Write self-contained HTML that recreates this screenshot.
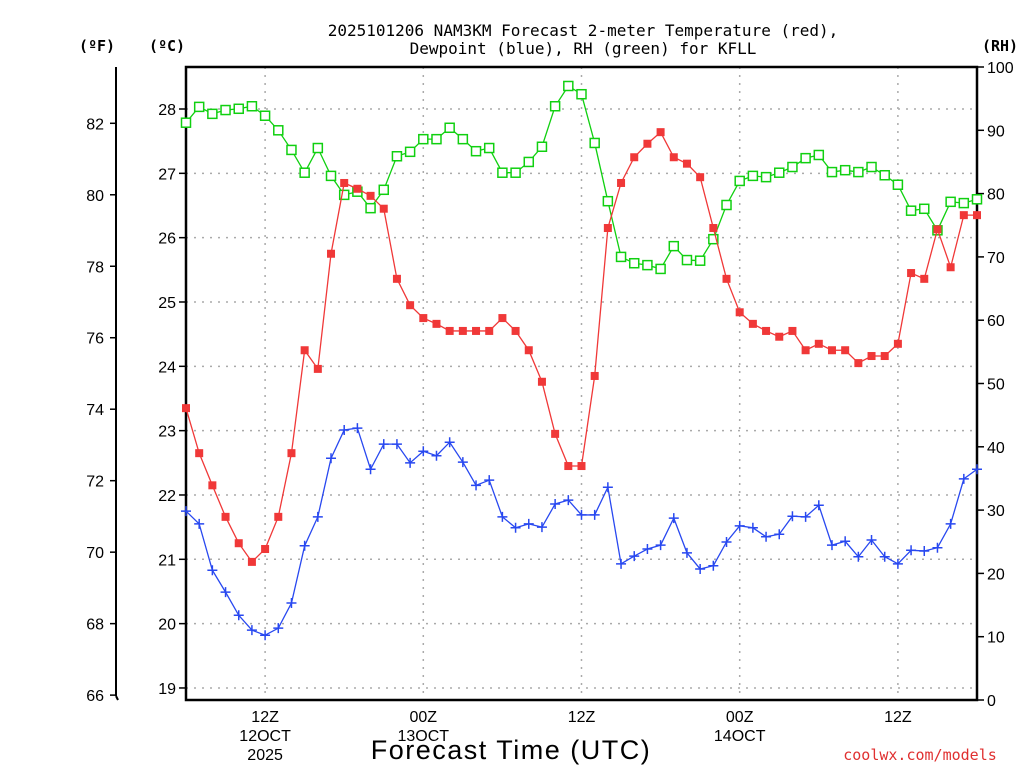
<!DOCTYPE html>
<html><head><meta charset="utf-8"><style>
html,body{margin:0;padding:0;background:#fff;}
svg{display:block;font-family:"DejaVu Sans Mono","Liberation Mono",monospace;}
.tk{font-family:"Liberation Sans","DejaVu Sans",sans-serif;}
</style></head><body>
<svg id="chart" width="1024" height="768" viewBox="0 0 1024 768" xmlns="http://www.w3.org/2000/svg">
<text x="583" y="36" text-anchor="middle" font-size="16">2025101206 NAM3KM Forecast 2-meter Temperature (red),</text>
<text x="583" y="54" text-anchor="middle" font-size="16">Dewpoint (blue), RH (green) for KFLL</text>
<text x="97" y="51" text-anchor="middle" font-size="15" font-weight="bold">(ºF)</text>
<text x="167" y="51" text-anchor="middle" font-size="15" font-weight="bold">(ºC)</text>
<text x="1000" y="51" text-anchor="middle" font-size="15" font-weight="bold">(RH)</text>
<text class="tk" x="511" y="759" text-anchor="middle" font-size="27" letter-spacing="1.5">Forecast Time (UTC)</text>
<text x="920" y="760" text-anchor="middle" font-size="15" fill="#e03030">coolwx.com/models</text>
<g id="grid"></g><g id="axes"></g><g id="series"></g>
</svg>
<script>
const hours = 61; // hourly from 06Z 12 Oct
const tempC = [23.35,22.65,22.15,21.66,21.25,20.96,21.16,21.66,22.65,24.25,23.96,25.75,26.85,26.76,26.65,26.45,25.36,24.95,24.75,24.66,24.55,24.55,24.55,24.55,24.75,24.55,24.25,23.76,22.95,22.45,22.45,23.85,26.15,26.85,27.25,27.46,27.64,27.25,27.15,26.94,26.15,25.36,24.84,24.66,24.55,24.46,24.55,24.25,24.35,24.25,24.25,24.05,24.16,24.16,24.35,25.45,25.36,26.13,25.54,26.35,26.35];
const dewC = [21.75,21.55,20.83,20.49,20.13,19.90,19.82,19.93,20.32,21.21,21.66,22.57,23.01,23.04,22.40,22.79,22.79,22.50,22.68,22.61,22.82,22.51,22.15,22.23,21.66,21.49,21.55,21.50,21.86,21.92,21.69,21.69,22.12,20.93,21.05,21.16,21.22,21.64,21.10,20.85,20.90,21.27,21.52,21.49,21.35,21.39,21.67,21.66,21.84,21.22,21.28,21.04,21.30,21.04,20.93,21.14,21.13,21.18,21.55,22.25,22.40];
const rh = [91.2,93.7,92.6,93.2,93.4,93.8,92.3,90.0,86.9,83.3,87.2,82.8,79.8,80.3,77.7,80.6,85.9,86.6,88.6,88.6,90.4,88.6,86.7,87.2,83.3,83.3,85.0,87.4,93.8,97.0,95.7,88.0,78.8,70.0,69.0,68.7,68.1,71.7,69.5,69.4,72.8,78.2,82.0,82.8,82.6,83.3,84.2,85.6,86.1,83.4,83.7,83.4,84.2,82.9,81.4,77.3,77.6,74.2,78.7,78.5,79.1];
const fTicks = [66,68,70,72,74,76,78,80,82];
const cTicks = [19,20,21,22,23,24,25,26,27,28];
const rhTicks = [0,10,20,30,40,50,60,70,80,90,100];
const timeTicks = [6,18,30,42,54];
const timeLabels = [["12Z","12OCT","2025"],["00Z","13OCT"],["12Z"],["00Z","14OCT"],["12Z"]];

const L=186,R=977,T=67,B=700;
const xS=h=>L+(R-L)*h/60;
const yC=c=>109+(28-c)*64.33;
const yF=f=>yC((f-32)/1.8);
const yRH=v=>B-(B-T)*v/100;
const NS="http://www.w3.org/2000/svg";
function mk(tag,attrs,parent){const e=document.createElementNS(NS,tag);for(const k in attrs)e.setAttribute(k,attrs[k]);parent.appendChild(e);return e;}
const grid=document.getElementById('grid'),axes=document.getElementById('axes'),ser=document.getElementById('series');

cTicks.forEach(c=>{const y=yC(c);
 const g=mk('line',{x1:L,x2:R,y1:y,y2:y,stroke:'#aaa','stroke-width':1.5,'stroke-dasharray':'2 6'},grid);
 
 
 const t=mk('line',{x1:L-7,x2:L,y1:y,y2:y,stroke:'#000','stroke-width':1.5},axes);
 
 
 const lb=mk('text',{x:L-10,y:y+6,'text-anchor':'end','font-size':16,class:'tk'},axes);lb.textContent=c;
 
 
});
timeTicks.forEach((h,i)=>{const x=xS(h);
 const g=mk('line',{x1:x,x2:x,y1:T,y2:B,stroke:'#aaa','stroke-width':1.5,'stroke-dasharray':'2 6'},grid);
 
 
 timeLabels[i].forEach((s,j)=>{const lb=mk('text',{x:x,y:722+j*19,'text-anchor':'middle','font-size':16,class:'tk'},axes);lb.textContent=s;
 
 });
});
fTicks.forEach(f=>{const y=yF(f);
 const t=mk('line',{x1:110,x2:116,y1:y,y2:y,stroke:'#000','stroke-width':1.5},axes);
 
 
 const lb=mk('text',{x:104,y:y+6,'text-anchor':'end','font-size':16,class:'tk'},axes);lb.textContent=f;
 
 
});
rhTicks.forEach(v=>{const y=yRH(v);
 const t=mk('line',{x1:R,x2:R+7,y1:y,y2:y,stroke:'#000','stroke-width':1.5},axes);
 
 
 const lb=mk('text',{x:R+10,y:y+6,'font-size':16,class:'tk'},axes);lb.textContent=v;
 
 
});
const fl=mk('line',{x1:116,x2:116,y1:T,y2:B-4,stroke:'#000','stroke-width':2},axes);


const fb=mk('polyline',{points:`116,${B-4} 118,${B}`,fill:'none',stroke:'#000','stroke-width':2},axes);


const fr=mk('rect',{x:L,y:T,width:R-L,height:B-T,fill:'none',stroke:'#000','stroke-width':2.5},axes);



function series(vals,yf,color,marker,name){
 const pts=vals.map((v,i)=>[xS(i),yf(v)]);
 const pl=mk('polyline',{points:pts.map(p=>p.join(',')).join(' '),fill:'none',stroke:color,'stroke-width':1.3},ser);
 
 
 pts.forEach(([x,y])=>{let m;
  if(marker==='fill'){m=mk('rect',{x:x-4,y:y-4,width:8,height:8,fill:color},ser);}
  else if(marker==='open'){m=mk('rect',{x:x-4.5,y:y-4.5,width:9,height:9,fill:'#fff',stroke:color,'stroke-width':1.5},ser);}
  else{m=mk('path',{d:`M${x-5},${y}H${x+5}M${x},${y-5}V${y+5}`,stroke:color,'stroke-width':1.5},ser);}
  
  
 });
}
series(rh,yRH,'#10d010','open','rh');
series(tempC,yC,'#f03838','fill','temperature');
series(dewC,yC,'#2848f0','plus','dewpoint');
</script>
</body></html>
